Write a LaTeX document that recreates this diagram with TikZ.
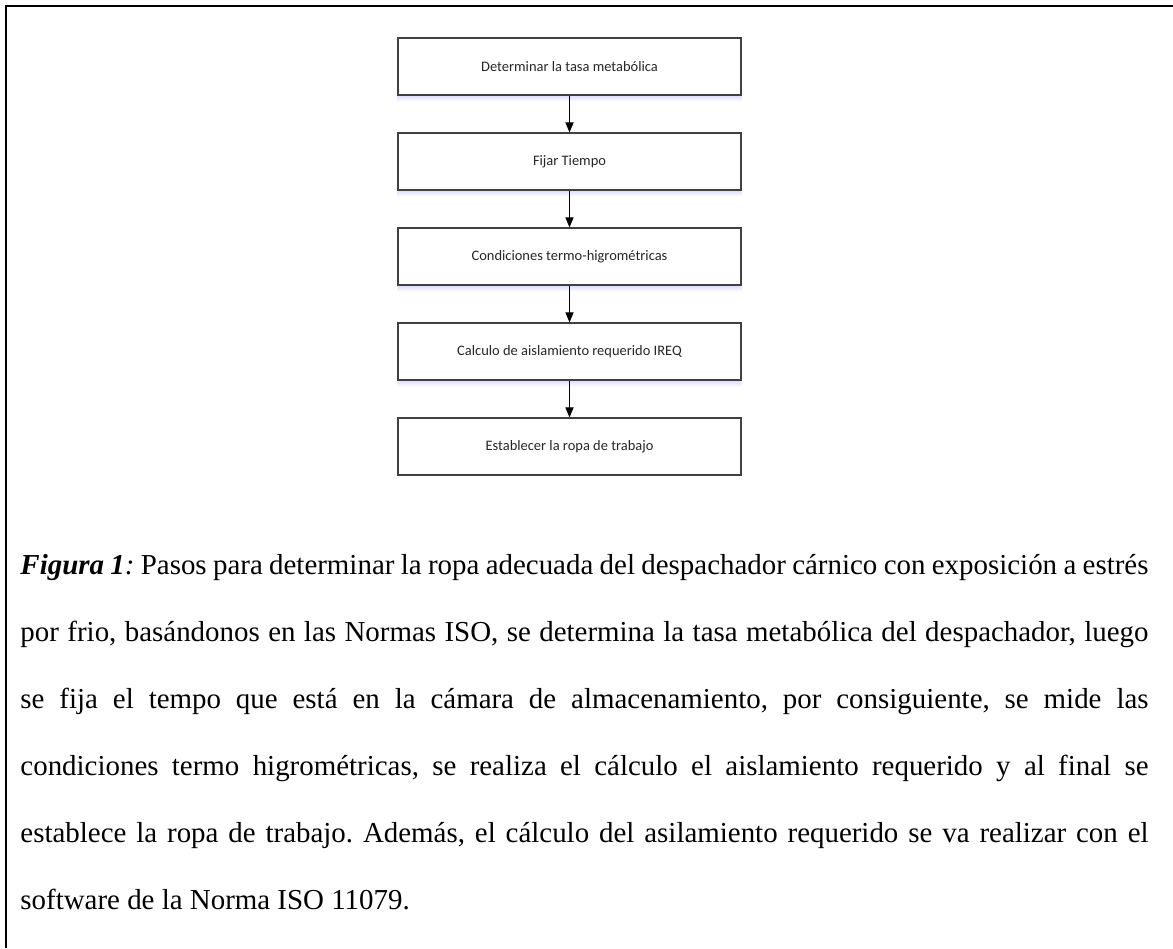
\documentclass[tikz,border=0pt]{standalone}
\usepackage{fontspec}
\setmainfont{Liberation Serif}
\newfontfamily\boxfont{Carlito}
\usetikzlibrary{arrows.meta}
\frenchspacing
\begin{document}
\begin{tikzpicture}[x=0.4149pt,y=-0.4149pt,
  stepbox/.style={draw=black!75, line width=0.5pt, minimum width=142.3pt, minimum height=23.65pt, inner sep=0pt, font=\boxfont\fontsize{6}{7}\selectfont, text=black!85},
  flow/.style={-{Triangle[length=4.2pt,width=3.4pt]}, line width=0.45pt},
  boxshadow/.style={top color=blue!12!white, bottom color=white, draw=none},
  frameline/.style={line width=0.9pt}]
\useasboundingbox (0,0) rectangle (1173,948);
\draw[frameline] (6,948) -- (6,6) -- (1173,6);
\node[stepbox] (b1) at (569.5,66.5) {Determinar la tasa metabólica};
\node[stepbox] (b2) at (569.5,161.5) {Fijar Tiempo};
\node[stepbox] (b3) at (569.5,256.5) {Condiciones termo-higrométricas};
\node[stepbox] (b4) at (569.5,351.5) {Calculo de aislamiento requerido IREQ};
\node[stepbox] (b5) at (569.5,446.5) {Establecer la ropa de trabajo};
\foreach \b in {b1,b2,b3,b4}{
  \shade[boxshadow] ([yshift=-0.25pt]\b.south west) rectangle ([yshift=-2.5pt]\b.south east);
}
\draw[flow] (b1) -- (b2);
\draw[flow] (b2) -- (b3);
\draw[flow] (b3) -- (b4);
\draw[flow] (b4) -- (b5);
\node[anchor=base west, text width=468pt, align=justify, inner sep=0pt, font=\fontsize{12}{27.8}\selectfont] (cap) at (20,574) {\hyphenpenalty=10000
\textbf{\textit{Figura 1}}\textit{:} Pasos para determinar la ropa adecuada del despachador cárnico con exposición a estrés\linebreak
por frio, basándonos en las Normas ISO, se determina la tasa metabólica del despachador, luego\linebreak
se fija el tempo que está en la cámara de almacenamiento, por consiguiente, se mide las\linebreak
condiciones termo higrométricas, se realiza el cálculo el aislamiento requerido y al final se\linebreak
establece la ropa de trabajo. Además, el cálculo del asilamiento requerido se va realizar con el\linebreak
software de la Norma ISO 11079.};
\end{tikzpicture}
\end{document}
